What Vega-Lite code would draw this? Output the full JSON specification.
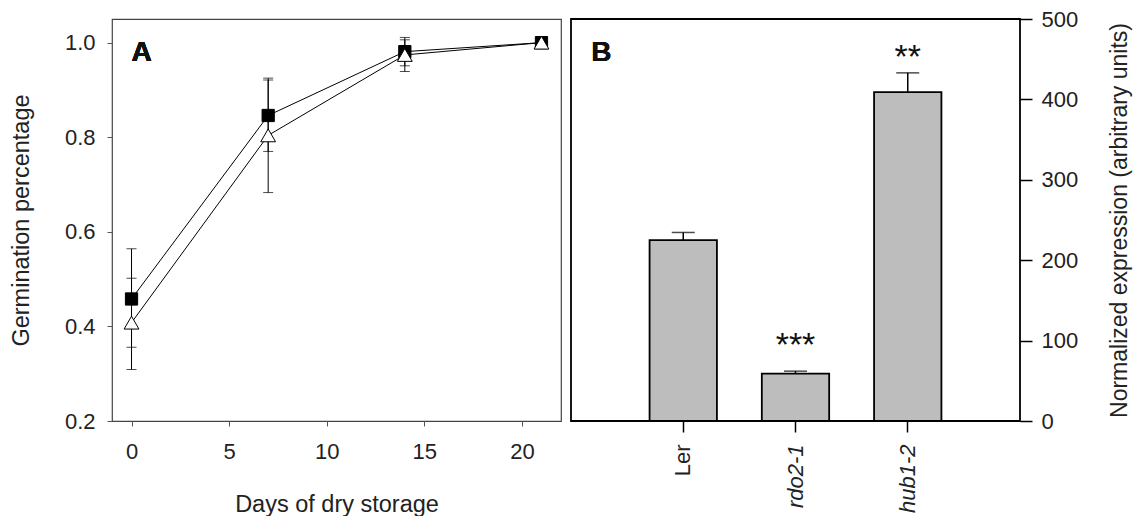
{
  "$schema": "https://vega.github.io/schema/vega-lite/v6.json",
  "padding": {"left": 8, "top": 7, "right": 0, "bottom": 0},
  "spacing": 8,
  "config": {
    "font": "Liberation Sans",
    "axis": {"grid": false, "domain": false, "labelFontSize": 22, "titleFontSize": 23.5, "titleFontWeight": "normal", "labelColor": "#222", "titleColor": "#222"}
  },
  "datasets": {
    "germ": [
      {"day": 0, "line": "filled", "mean": 0.458, "lo": 0.356, "hi": 0.564},
      {"day": 7, "line": "filled", "mean": 0.846, "lo": 0.770, "hi": 0.921},
      {"day": 14, "line": "filled", "mean": 0.981, "lo": 0.951, "hi": 1.011},
      {"day": 21, "line": "filled", "mean": 1.0, "lo": 1.0, "hi": 1.0},
      {"day": 0, "line": "open", "mean": 0.408, "lo": 0.309, "hi": 0.502},
      {"day": 7, "line": "open", "mean": 0.804, "lo": 0.683, "hi": 0.925},
      {"day": 14, "line": "open", "mean": 0.974, "lo": 0.939, "hi": 1.006},
      {"day": 21, "line": "open", "mean": 1.0, "lo": 1.0, "hi": 1.0}
    ],
    "expr": [
      {"genotype": "Ler", "value": 225, "hi": 234.5, "sig": "", "sig_y": null},
      {"genotype": "rdo2-1", "value": 59, "hi": 62, "sig": "***", "sig_y": 93},
      {"genotype": "hub1-2", "value": 409, "hi": 433, "sig": "**", "sig_y": 452}
    ]
  },
  "hconcat": [
    {
      "width": 449,
      "height": 402,
      "view": {"stroke": "#444", "strokeWidth": 1.2},
      "data": {"name": "germ"},
      "encoding": {
        "x": {
          "field": "day", "type": "quantitative",
          "scale": {"domain": [-1, 22], "nice": false, "zero": false},
          "axis": {"values": [0, 5, 10, 15, 20], "tickSize": 5, "tickColor": "#555", "labelPadding": 15, "title": "Days of dry storage", "titlePadding": 30}
        }
      },
      "layer": [
        {
          "mark": {"type": "line", "color": "black", "strokeWidth": 1},
          "encoding": {
            "y": {"field": "mean", "type": "quantitative", "scale": {"domain": [0.2, 1.05], "nice": false, "zero": false},
              "axis": {"values": [0.2, 0.4, 0.6, 0.8, 1.0], "format": ".1f", "tickSize": 5, "tickColor": "#555", "labelPadding": 12, "title": "Germination percentage", "titlePadding": 31}},
            "detail": {"field": "line", "type": "nominal"}
          }
        },
        {
          "mark": {"type": "rule", "color": "black", "strokeWidth": 1},
          "encoding": {
            "y": {"field": "lo", "type": "quantitative", "scale": {"domain": [0.2, 1.05], "nice": false, "zero": false}, "title": "Germination percentage"},
            "y2": {"field": "hi"}
          }
        },
        {
          "mark": {"type": "tick", "color": "black", "size": 10, "thickness": 1, "orient": "horizontal"},
          "encoding": {
            "y": {"field": "lo", "type": "quantitative", "scale": {"domain": [0.2, 1.05], "nice": false, "zero": false}, "title": "Germination percentage"}
          }
        },
        {
          "mark": {"type": "tick", "color": "black", "size": 10, "thickness": 1, "orient": "horizontal"},
          "encoding": {
            "y": {"field": "hi", "type": "quantitative", "scale": {"domain": [0.2, 1.05], "nice": false, "zero": false}, "title": "Germination percentage"}
          }
        },
        {
          "mark": {"type": "point", "filled": true, "stroke": "black", "strokeWidth": 1, "opacity": 1},
          "encoding": {
            "y": {"field": "mean", "type": "quantitative", "scale": {"domain": [0.2, 1.05], "nice": false, "zero": false}, "title": "Germination percentage"},
            "shape": {"field": "line", "type": "nominal", "scale": {"domain": ["filled", "open"], "range": ["square", "triangle-up"]}, "legend": null},
            "fill": {"field": "line", "type": "nominal", "scale": {"domain": ["filled", "open"], "range": ["black", "white"]}, "legend": null},
            "size": {"field": "line", "type": "nominal", "scale": {"domain": ["filled", "open"], "range": [150, 220]}, "legend": null}
          }
        },
        {
          "mark": {"type": "text", "text": "A", "fontSize": 28, "fontWeight": "bold", "align": "left", "baseline": "alphabetic", "color": "#111"},
          "encoding": {
            "x": {"datum": 0},
            "y": {"datum": 0.962, "scale": {"domain": [0.2, 1.05], "nice": false, "zero": false}, "title": "Germination percentage"}
          }
        }
      ]
    },
    {
      "width": 449,
      "height": 402,
      "view": {"stroke": "black", "strokeWidth": 1.8},
      "data": {"name": "expr"},
      "encoding": {
        "x": {
          "field": "genotype", "type": "nominal", "sort": ["Ler", "rdo2-1", "hub1-2"],
          "scale": {"paddingInner": 0.4, "paddingOuter": 0.7},
          "axis": {
            "labelAngle": -90, "title": null, "tickSize": 11, "tickColor": "black", "tickWidth": 1.5, "labelPadding": 12,
            "labelFontStyle": {"condition": {"test": "datum.value === 'Ler'", "value": "normal"}, "value": "italic"}
          }
        }
      },
      "layer": [
        {
          "mark": {"type": "bar", "fill": "#bdbdbd", "stroke": "black", "strokeWidth": 1.8},
          "encoding": {
            "y": {"field": "value", "type": "quantitative", "scale": {"domain": [0, 500], "nice": false},
              "axis": {"orient": "right", "values": [0, 100, 200, 300, 400, 500], "tickSize": 12, "tickColor": "black", "tickWidth": 1.5, "labelPadding": 9,
                "title": "Normalized expression (arbitrary units)", "titleFontSize": 23, "titleAngle": 270, "titleBaseline": "top", "titlePadding": 31}}
          }
        },
        {
          "mark": {"type": "rule", "color": "black", "strokeWidth": 1.5},
          "encoding": {
            "y": {"field": "value", "type": "quantitative", "scale": {"domain": [0, 500], "nice": false}, "title": "Normalized expression (arbitrary units)"},
            "y2": {"field": "hi"}
          }
        },
        {
          "mark": {"type": "tick", "color": "black", "size": 23, "thickness": 1.5},
          "encoding": {
            "y": {"field": "hi", "type": "quantitative", "scale": {"domain": [0, 500], "nice": false}, "title": "Normalized expression (arbitrary units)"}
          }
        },
        {
          "mark": {"type": "text", "fontSize": 34, "baseline": "middle", "color": "#111"},
          "encoding": {
            "y": {"field": "sig_y", "type": "quantitative", "scale": {"domain": [0, 500], "nice": false}, "title": "Normalized expression (arbitrary units)"},
            "text": {"field": "sig"}
          }
        },
        {
          "mark": {"type": "text", "text": "B", "fontSize": 28, "fontWeight": "bold", "align": "left", "baseline": "alphabetic", "dx": -92, "color": "#111"},
          "encoding": {
            "x": {"datum": "Ler"},
            "y": {"datum": 448, "scale": {"domain": [0, 500], "nice": false}, "title": "Normalized expression (arbitrary units)"}
          }
        }
      ]
    }
  ]
}
